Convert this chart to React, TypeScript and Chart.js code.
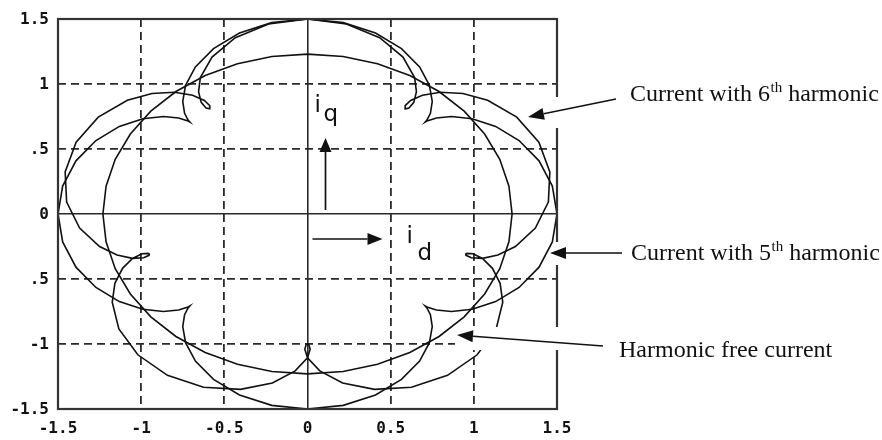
import React, { useEffect, useRef } from 'react';
import { Chart, registerables } from 'chart.js';

Chart.register(...registerables);

// ---- axis ticks ----
const tickValues = [-1.5, -1, -0.5, 0, 0.5, 1, 1.5];
const xTickLabels = ['-1.5', '-1', '-0.5', '0', '0.5', '1', '1.5'];
const yTickLabels = ['-1.5', '-1', '.5', '0', '.5', '1', '1.5'];

// ---- harmonic free current (i_d, i_q) ----
const freeX = [1.23, 1.211, 1.156, 1.065, 0.942, 0.791, 0.615, 0.421, 0.214, 0, -0.214, -0.421, -0.615, -0.791, -0.942, -1.065, -1.156, -1.211, -1.23, -1.211, -1.156, -1.065, -0.942, -0.791, -0.615, -0.421, -0.214, 0, 0.214, 0.421, 0.615, 0.791, 0.942, 1.065, 1.156, 1.211, 1.23];
const freeY = [0, 0.214, 0.421, 0.615, 0.791, 0.942, 1.065, 1.156, 1.211, 1.23, 1.211, 1.156, 1.065, 0.942, 0.791, 0.615, 0.421, 0.214, 0, -0.214, -0.421, -0.615, -0.791, -0.942, -1.065, -1.156, -1.211, -1.23, -1.211, -1.156, -1.065, -0.942, -0.791, -0.615, -0.421, -0.214, 0];

// ---- current with 5th harmonic ----
const h5X = [1.5, 1.472, 1.392, 1.272, 1.131, 0.99, 0.866, 0.775, 0.723, 0.707, 0.718, 0.739, 0.75, 0.733, 0.674, 0.565, 0.409, 0.215, 0,
  -0.215, -0.409, -0.565, -0.674, -0.733, -0.75, -0.739, -0.718, -0.707, -0.723, -0.775, -0.866, -0.99, -1.131, -1.272, -1.392, -1.472, -1.5,
  -1.472, -1.392, -1.272, -1.131, -0.99, -0.866, -0.775, -0.723, -0.707, -0.718, -0.739, -0.75, -0.733, -0.674, -0.565, -0.409, -0.215, 0,
  0.215, 0.409, 0.565, 0.674, 0.733, 0.75, 0.739, 0.718, 0.707, 0.723, 0.775, 0.866, 0.99, 1.131, 1.272, 1.392, 1.472, 1.5];
const h5Y = [0, 0.215, 0.409, 0.565, 0.674, 0.733, 0.75, 0.739, 0.718, 0.707, 0.723, 0.775, 0.866, 0.99, 1.131, 1.272, 1.392, 1.472, 1.5,
  1.472, 1.392, 1.272, 1.131, 0.99, 0.866, 0.775, 0.723, 0.707, 0.718, 0.739, 0.75, 0.733, 0.674, 0.565, 0.409, 0.215, 0,
  -0.215, -0.409, -0.565, -0.674, -0.733, -0.75, -0.739, -0.718, -0.707, -0.723, -0.775, -0.866, -0.99, -1.131, -1.272, -1.392, -1.472, -1.5,
  -1.472, -1.392, -1.272, -1.131, -0.99, -0.866, -0.775, -0.723, -0.707, -0.718, -0.739, -0.75, -0.733, -0.674, -0.565, -0.409, -0.215, 0];

// ---- current with 6th harmonic ----
const h6X = [0, 0.234, 0.434, 0.574, 0.644, 0.655, 0.639, 0.61, 0.588, 0.587, 0.62, 0.691, 0.799, 0.935, 1.083, 1.258, 1.391, 1.457, 1.448, 1.37, 1.25,
  1.145, 1.052, 0.985, 0.953, 0.951, 0.958, 0.995, 1.052, 1.112, 1.158, 1.174, 1.134, 1.02, 0.842, 0.625, 0.403, 0.211, 0.074, 0, -0.016, -0.008, 0,
  0.008, 0.016, 0, -0.074, -0.211, -0.403, -0.625, -0.842, -1.02, -1.134, -1.174, -1.158, -1.112, -1.052, -0.995, -0.958, -0.951, -0.953, -0.985, -1.052, -1.145,
  -1.25, -1.37, -1.448, -1.457, -1.391, -1.258, -1.083, -0.935, -0.799, -0.691, -0.62, -0.587, -0.588, -0.61, -0.639, -0.655, -0.644, -0.574, -0.434, -0.234, 0];
const h6Y = [1.5, 1.462, 1.356, 1.207, 1.05, 0.94, 0.859, 0.816, 0.809, 0.833, 0.873, 0.914, 0.937, 0.927, 0.875, 0.745, 0.553, 0.324, 0.092, -0.108, -0.25,
  -0.316, -0.341, -0.337, -0.318, -0.309, -0.303, -0.306, -0.342, -0.418, -0.533, -0.679, -0.884, -1.083, -1.241, -1.333, -1.349, -1.3, -1.207, -1.106, -1.041, -1.005, -1.0,
  -1.005, -1.041, -1.106, -1.207, -1.3, -1.349, -1.333, -1.241, -1.083, -0.884, -0.679, -0.533, -0.418, -0.342, -0.306, -0.303, -0.309, -0.318, -0.337, -0.341, -0.316,
  -0.25, -0.108, 0.092, 0.324, 0.553, 0.745, 0.875, 0.927, 0.937, 0.914, 0.873, 0.833, 0.809, 0.816, 0.859, 0.94, 1.05, 1.207, 1.356, 1.462, 1.5];

const toPoints = (xs: number[], ys: number[]) => xs.map((x, i) => ({ x, y: ys[i] }));

function drawArrow(ctx: CanvasRenderingContext2D, x1: number, y1: number, x2: number, y2: number, head = 15, half = 6, lw = 1.6) {
  const ang = Math.atan2(y2 - y1, x2 - x1);
  const bx = x2 - head * Math.cos(ang);
  const by = y2 - head * Math.sin(ang);
  ctx.save();
  ctx.strokeStyle = '#111';
  ctx.fillStyle = '#111';
  ctx.lineWidth = lw;
  ctx.beginPath();
  ctx.moveTo(x1, y1);
  ctx.lineTo(bx, by);
  ctx.stroke();
  ctx.beginPath();
  ctx.moveTo(x2, y2);
  ctx.lineTo(bx + half * Math.sin(ang), by - half * Math.cos(ang));
  ctx.lineTo(bx - half * Math.sin(ang), by + half * Math.cos(ang));
  ctx.closePath();
  ctx.fill();
  ctx.restore();
}

function drawSupText(ctx: CanvasRenderingContext2D, x: number, y: number, pre: string, sup: string, post: string) {
  ctx.font = '24px "Liberation Serif", "Times New Roman", serif';
  ctx.fillText(pre, x, y);
  let cx = x + ctx.measureText(pre).width;
  ctx.font = '15px "Liberation Serif", "Times New Roman", serif';
  ctx.fillText(sup, cx + 0.5, y - 9);
  cx += ctx.measureText(sup).width + 0.5;
  ctx.font = '24px "Liberation Serif", "Times New Roman", serif';
  ctx.fillText(post, cx, y);
}

const decorPlugin = {
  id: 'decor',
  afterDraw(chart: any) {
    const { ctx, chartArea, scales } = chart;
    const xs = scales.x;
    const ys = scales.y;
    ctx.save();
    // frame
    ctx.strokeStyle = '#333';
    ctx.lineWidth = 2.2;
    ctx.strokeRect(chartArea.left, chartArea.top, chartArea.right - chartArea.left, chartArea.bottom - chartArea.top);
    // blank areas where the callouts pass into the plot
    ctx.fillStyle = '#fff';
    const r = chartArea.right;
    ctx.fillRect(r - 2, 97, 4, 31);
    ctx.fillRect(r - 2, 242, 4, 23);
    ctx.fillRect(455, 327, r - 453, 23);

    // tick labels
    ctx.fillStyle = '#111';
    ctx.font = 'bold 16px "DejaVu Sans Mono", monospace';
    ctx.textAlign = 'right';
    ctx.textBaseline = 'middle';
    tickValues.forEach((v, i) => {
      ctx.fillText(yTickLabels[i], 49, ys.getPixelForValue(v) + 1);
    });
    ctx.textAlign = 'center';
    ctx.textBaseline = 'top';
    tickValues.forEach((v, i) => {
      ctx.fillText(xTickLabels[i], xs.getPixelForValue(v), 421);
    });

    // i_q and i_d arrows
    const x0 = xs.getPixelForValue(0);
    const y0 = ys.getPixelForValue(0);
    drawArrow(ctx, x0 + 18, y0 - 4, x0 + 18, y0 - 76, 14, 6, 1.7);
    drawArrow(ctx, x0 + 5, y0 + 25, x0 + 75, y0 + 25, 15, 6, 1.7);

    ctx.textAlign = 'left';
    ctx.textBaseline = 'alphabetic';
    ctx.font = '23px "DejaVu Sans", sans-serif';
    ctx.fillText('i', x0 + 7, y0 - 102);
    ctx.fillText('q', x0 + 16, y0 - 93);
    ctx.fillText('i', x0 + 99, y0 + 29);
    ctx.fillText('d', x0 + 110, y0 + 46);

    // callouts
    drawArrow(ctx, 616, 99, 528, 117, 16, 6, 1.5);
    drawArrow(ctx, 622, 253, 550, 253, 16, 6, 1.5);
    drawArrow(ctx, 603, 346, 457, 335, 16, 6, 1.5);

    ctx.fillStyle = '#111';
    drawSupText(ctx, 630, 101, 'Current with 6', 'th', ' harmonic');
    drawSupText(ctx, 631, 260, 'Current with 5', 'th', ' harmonic');
    ctx.font = '24px "Liberation Serif", "Times New Roman", serif';
    ctx.fillText('Harmonic free current', 619, 357);
    ctx.restore();
  },
};

export default function App() {
  const canvasRef = useRef<HTMLCanvasElement | null>(null);

  useEffect(() => {
    const canvas = canvasRef.current;
    if (!canvas) return;
    const lineDs = (label: string, xs: number[], ys: number[]) => ({
      label,
      data: toPoints(xs, ys),
      showLine: true,
      borderColor: '#111',
      backgroundColor: '#111',
      borderWidth: 1.6,
      pointRadius: 0,
      tension: 0,
      fill: false,
    });
    const gridWidth = (c: any) => (c.tick && c.tick.value === 0 ? 1.6 : 1.8);
    const gridDash = (c: any) => (c.tick && c.tick.value === 0 ? [] : [8, 5]);
    const chart = new Chart(canvas, {
      type: 'scatter',
      data: {
        datasets: [
          lineDs('Harmonic free current', freeX, freeY),
          lineDs('Current with 5th harmonic', h5X, h5Y),
          lineDs('Current with 6th harmonic', h6X, h6Y),
        ],
      },
      options: {
        responsive: false,
        maintainAspectRatio: false,
        animation: false,
        events: [],
        layout: { padding: { left: 0, right: 325, top: 19, bottom: 0 } },
        plugins: { legend: { display: false }, tooltip: { enabled: false } },
        scales: {
          x: {
            type: 'linear',
            min: -1.5,
            max: 1.5,
            ticks: { display: false, stepSize: 0.5 },
            grid: { drawTicks: false, color: '#2a2a2a', lineWidth: gridWidth },
            border: { display: false, dash: gridDash },
            afterFit: (s: any) => { s.height = 31; },
          },
          y: {
            type: 'linear',
            min: -1.5,
            max: 1.5,
            ticks: { display: false, stepSize: 0.5 },
            grid: { drawTicks: false, color: '#2a2a2a', lineWidth: gridWidth },
            border: { display: false, dash: gridDash },
            afterFit: (s: any) => { s.width = 58; },
          },
        },
      } as any,
      plugins: [decorPlugin],
    });
    return () => chart.destroy();
  }, []);

  return (
    <div style={{ position: 'absolute', left: 0, top: 0, width: 882, height: 440, background: '#fff' }}>
      <canvas ref={canvasRef} width={882} height={440} style={{ width: 882, height: 440, display: 'block' }} />
    </div>
  );
}
